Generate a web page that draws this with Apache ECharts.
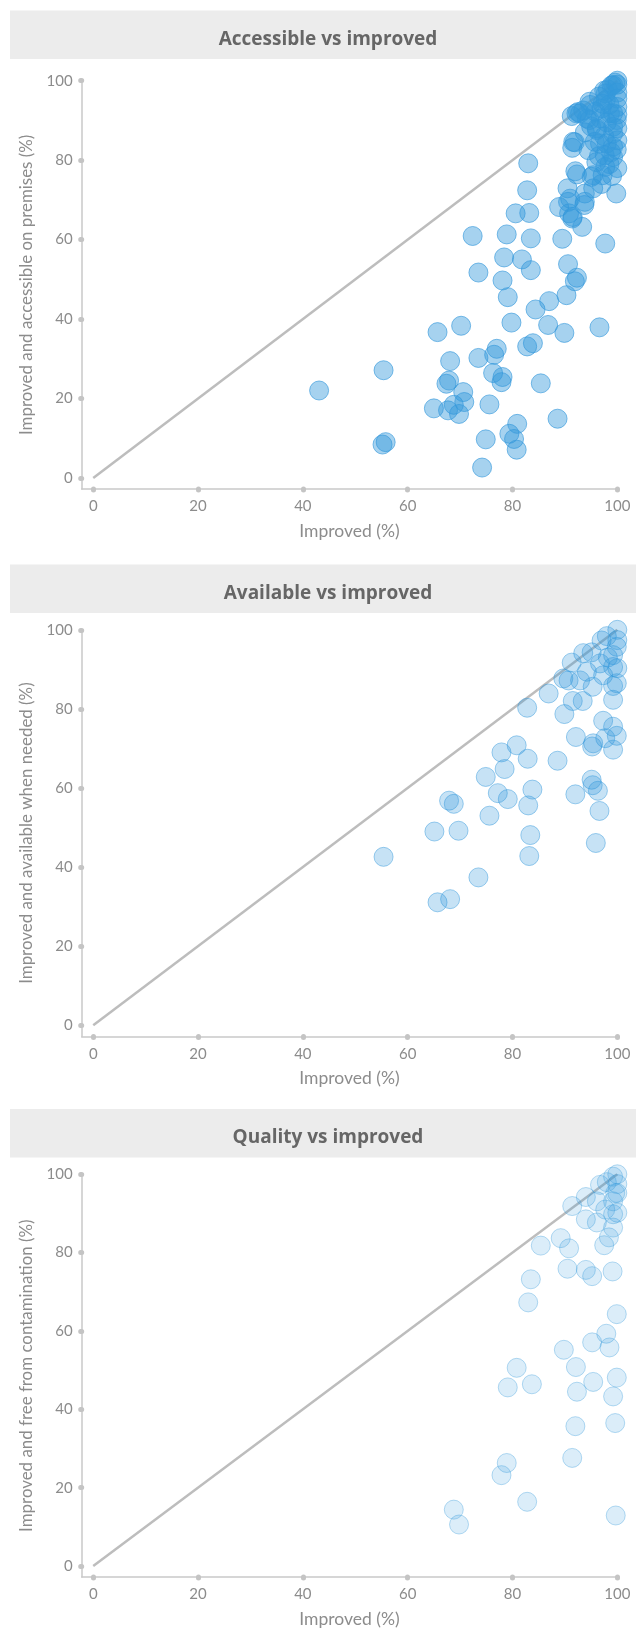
<!DOCTYPE html>
<html>
<head>
<meta charset="utf-8">
<script src="https://cdn.jsdelivr.net/npm/echarts@6/dist/echarts.min.js"></script>
<style>
html,body{margin:0;padding:0;background:#fff;}
#chart{width:636px;height:1629px;}
</style>
</head>
<body>
<div id="chart"></div>
<script>
// ---- data ----
const titles = ['Accessible vs improved', 'Available vs improved', 'Quality vs improved'];
const yNames = ['Improved and accessible on premises (%)', 'Improved and available when needed (%)', 'Improved and free from contamination (%)'];
const xName = 'Improved (%)';
const tickValues = [0, 20, 40, 60, 80, 100];
const diagonal = [[0, 0], [100, 100]];

const accessible = [
  [43.1,22.0],[55.4,27.1],[55.2,8.4],[55.8,9.0],[65.7,36.7],[70.2,38.3],[73.5,51.7],[72.4,60.9],
  [68.1,29.4],[67.9,24.5],[67.4,23.7],[65.0,17.5],[67.7,17.0],[69.8,16.1],[70.6,21.6],[70.8,19.1],
  [68.8,18.4],[73.5,30.2],[77.0,32.5],[76.5,31.0],[76.3,26.4],[78.1,25.4],[77.9,24.1],[75.6,18.5],
  [74.9,9.7],[74.2,2.6],[79.8,39.1],[79.1,45.5],[78.1,49.7],[78.4,55.5],[81.8,55.0],[83.5,52.3],
  [78.9,61.3],[83.5,60.3],[80.6,66.6],[83.2,66.7],[84.4,42.4],[87.0,44.5],[82.8,33.1],[83.9,33.9],
  [85.4,23.8],[80.9,13.6],[79.4,11.1],[80.3,9.8],[80.8,7.1],[88.6,14.9],[86.8,38.5],[89.9,36.5],
  [90.3,46.0],[91.9,49.5],[92.3,50.4],[90.6,53.8],[89.5,60.2],[96.6,37.9],[97.7,59.0],[91.4,65.3],
  [90.8,66.6],[93.3,63.2],[88.9,68.2],[90.6,69.5],[93.8,69.5],[93.7,68.7],[99.8,71.6],
  [83.0,79.2],[82.8,72.4],[91.9,84.5],[91.4,83.1],[92.0,77.2],[95.4,76.2],[97.2,76.2],[97.7,78.3],
  [99.2,80.8],[99.9,82.7],[90.5,72.9],[91.0,70.3],[93.8,71.6],[95.4,72.9],[95.1,75.8],[91.5,65.7],
  [92.9,91.8],[94.7,94.7],[94.8,93.9],[97.8,95.1],[94.2,90.5],[96.1,87.6],[96.7,84.2],[98.0,84.2],
  [99.2,86.7],[99.2,83.4],[99.9,90.1],[98.6,91.8],[100,93.4],[99.2,98.9],[100,100],[98.9,98.8],
  [97.8,96.8],[99.2,91.8],[99.2,88.4],[91.6,84.6],[95.7,84.6],[96.1,88.0],[94.7,90.1],[97.5,97.5],
  [96.5,96.0],[98.2,97.8],[99.6,99.5],[100,99.0],[100,97.0],[100,95.5],[100,91.5],[100,88.0],
  [100,85.0],[98.5,94.0],[97.0,93.0],[95.8,92.2],[93.5,92.5],[92.2,91.8],[96.8,90.5],[98.0,89.5],
  [95.0,88.5],[93.8,87.0],[97.5,86.0],[98.8,82.0],[96.5,81.0],[94.5,82.5],[96.0,79.5],[98.5,79.0],
  [97.0,74.0],[99.0,76.0],[100,78.0],[97.6,81.2],[92.3,76.4],[97.2,94.2],[91.3,91.1],[92.5,92.1]
];

const available = [
  [55.4,42.6],[65.7,31.1],[68.1,31.9],[73.5,37.4],[65.1,49.0],[69.7,49.2],[67.9,56.8],[68.8,56.0],
  [75.6,53.0],[74.9,62.8],[77.2,58.7],[79.1,57.2],[78.5,64.8],[77.9,69.0],[80.8,70.8],[82.9,67.4],
  [83.8,59.6],[83.0,55.6],[83.4,48.1],[83.2,42.8],[82.8,80.3],[86.9,83.9],[88.6,66.9],[89.9,78.7],
  [91.5,82.0],[93.4,82.0],[92.0,58.4],[95.1,62.1],[95.3,60.7],[96.3,59.3],[96.6,54.2],[95.9,46.1],
  [92.1,72.9],[95.2,70.5],[95.4,71.3],[97.3,77.0],[99.2,75.5],[99.9,73.2],[99.2,69.7],[97.7,72.6],
  [89.7,87.7],[90.7,87.2],[92.9,87.2],[91.3,91.7],[93.5,94.1],[95.1,94.3],[95.3,85.6],[97.3,88.5],
  [99.2,82.3],[99.9,86.5],[99.2,93.6],[98.0,98.4],[100,100],[97.0,97.3],[94.2,89.4],[96.7,91.5],
  [99.2,90.6],[100,90.3],[99.9,95.7],[100,97.4],[99.2,85.8],[98.2,93.0]
];

const quality = [
  [68.8,14.4],[69.8,10.6],[82.8,16.4],[78.9,26.3],[77.9,23.2],[91.4,27.6],[99.7,12.9],[80.8,50.6],
  [79.1,45.6],[83.7,46.4],[89.8,55.2],[92.1,50.8],[92.3,44.5],[95.2,57.1],[97.9,59.3],[98.5,55.8],
  [95.4,47.0],[99.9,48.1],[99.2,43.3],[92.0,35.7],[99.6,36.5],[99.9,64.3],[83.5,73.2],[83.0,67.3],
  [85.4,81.8],[89.2,83.7],[90.8,81.1],[90.5,75.9],[94.0,75.6],[95.2,74.0],[99.1,75.2],[91.4,91.9],
  [94.0,94.2],[94.0,88.5],[96.1,87.7],[97.5,81.9],[98.4,83.9],[99.2,86.4],[99.2,89.8],[97.7,91.0],
  [99.2,93.1],[99.6,95.2],[100,100],[99.2,99.4],[96.7,97.3],[96.1,93.1],[100,90.2],[100,95.2],
  [98.0,98.0],[100,97.5]
];

const panelData = [accessible, available, quality];

// ---- layout / style ----
const FONT = 'Lato, "Open Sans", sans-serif';
const panels = [
  {barTop: 10.5, gridTop: 80.7, gridH: 408.3, fill: 'rgba(52,152,219,0.55)', border: 'rgba(52,152,219,0.8)'},
  {barTop: 564.5, gridTop: 629.8, gridH: 406.6, fill: 'rgba(52,152,219,0.35)', border: 'rgba(52,152,219,0.6)'},
  {barTop: 1109, gridTop: 1174.3, gridH: 406.3, fill: 'rgba(52,152,219,0.22)', border: 'rgba(52,152,219,0.44)'}
];
const gridLeft = 81.7, gridW = 535.6;
const xMin = -2.2, yMin = -2.8;

const grid = [], xAxis = [], yAxis = [], series = [], graphic = [], title = [];
const axisCommon = {
  max: 100,
  axisLine: {show: true, onZero: false, lineStyle: {color: '#c9c9c9', width: 1.5}},
  axisTick: {show: true, customValues: tickValues, length: 1, lineStyle: {color: '#c4c4c4', width: 5, cap: 'round'}},
  axisLabel: {customValues: tickValues, color: '#8c8c8c', fontSize: 15, fontFamily: FONT},
  splitLine: {show: false}
};

panels.forEach((p, i) => {
  graphic.push({type: 'rect', shape: {x: 10, y: p.barTop, width: 626, height: 48.5}, style: {fill: '#ececec'}, z: 0});
  title.push({text: titles[i], left: 323, top: p.barTop + 24, textAlign: 'center', textVerticalAlign: 'middle',
    textStyle: {color: '#666666', fontSize: 19, fontWeight: 'bold', fontFamily: '"Open Sans", sans-serif'}});
  grid.push({left: gridLeft, top: p.gridTop, width: gridW, height: p.gridH, containLabel: false});
  xAxis.push(Object.assign({}, axisCommon, {
    gridIndex: i, type: 'value', min: xMin, name: xName, nameLocation: 'middle', nameGap: 33,
    nameTextStyle: {color: '#8c8c8c', fontSize: 17.5, fontFamily: FONT},
    axisLabel: Object.assign({}, axisCommon.axisLabel, {margin: 10})
  }));
  yAxis.push(Object.assign({}, axisCommon, {
    gridIndex: i, type: 'value', min: yMin, name: yNames[i], nameLocation: 'middle', nameGap: 47,
    nameTextStyle: {color: '#8c8c8c', fontSize: 16.9, fontFamily: FONT},
    axisLabel: Object.assign({}, axisCommon.axisLabel, {margin: 9})
  }));
  series.push({
    type: 'line', xAxisIndex: i, yAxisIndex: i, data: diagonal, symbol: 'none', silent: true,
    lineStyle: {color: '#bdbdbd', width: 2.5}, z: 1
  });
  series.push({
    type: 'scatter', xAxisIndex: i, yAxisIndex: i, data: panelData[i], symbolSize: 19, clip: false,
    itemStyle: {color: p.fill, borderColor: p.border, borderWidth: 1}, z: 2
  });
});

const chart = echarts.init(document.getElementById('chart'), null, {renderer: 'canvas'});
chart.setOption({animation: false, backgroundColor: '#fff', title, grid, xAxis, yAxis, series, graphic});
</script>
</body>
</html>
